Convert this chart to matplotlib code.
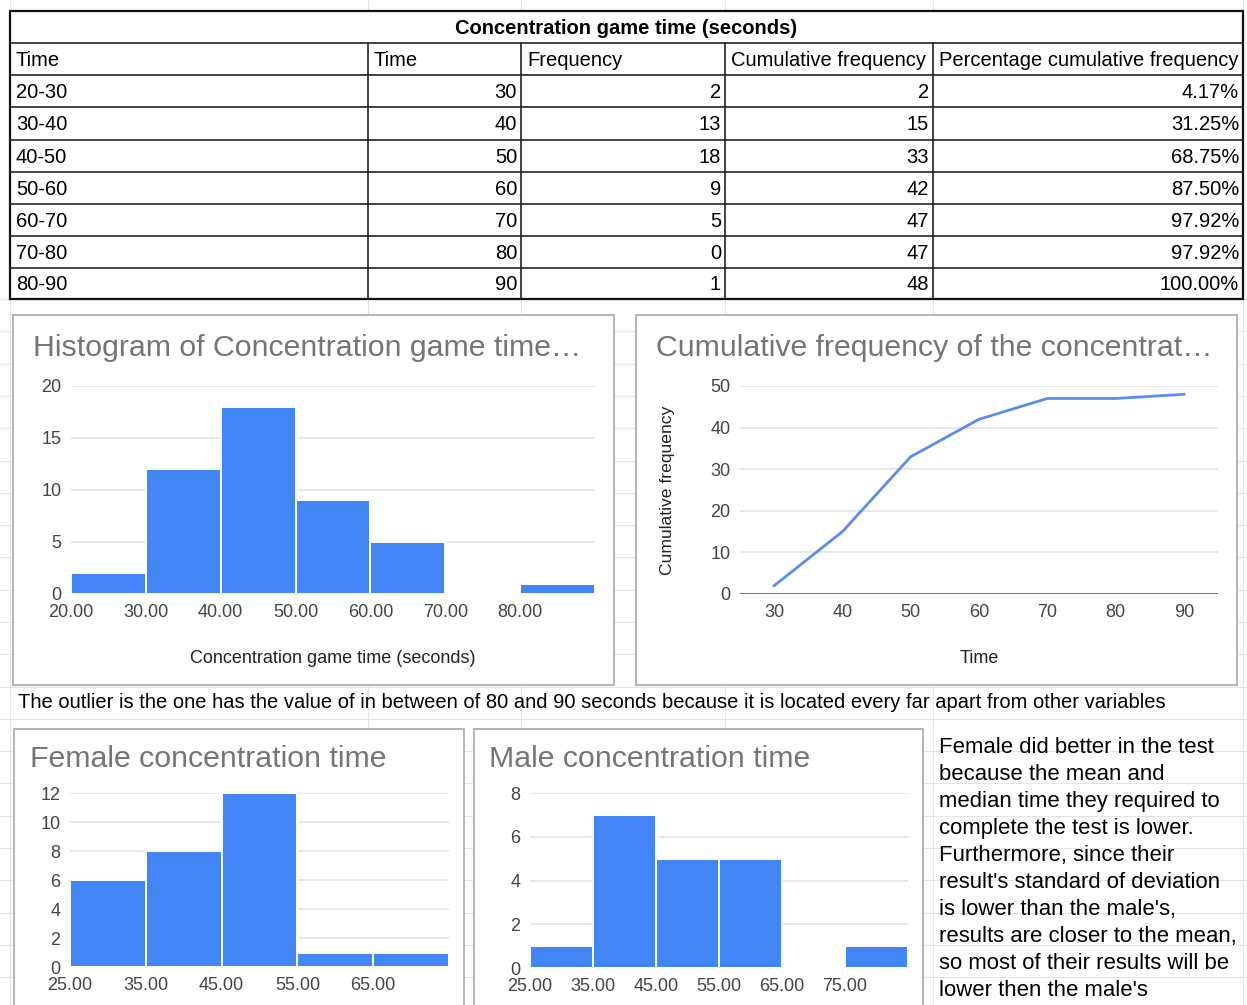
import matplotlib
matplotlib.use('Agg')
import matplotlib.pyplot as plt
from matplotlib.patches import Rectangle

plt.rcParams['font.family'] = ['Liberation Sans', 'DejaVu Sans']

# Данные таблицы
intervals = ['20-30', '30-40', '40-50', '50-60', '60-70', '70-80', '80-90']
upper_time = [30, 40, 50, 60, 70, 80, 90]
frequency = [2, 13, 18, 9, 5, 0, 1]
cum_frequency = [2, 15, 33, 42, 47, 47, 48]
pct_cum_frequency = ['4.17%', '31.25%', '68.75%', '87.50%', '97.92%', '97.92%', '100.00%']
headers = ['Time', 'Time', 'Frequency', 'Cumulative frequency', 'Percentage cumulative frequency']

# Гистограммы (как на графиках)
hist_edges = [20, 30, 40, 50, 60, 70, 80, 90]
hist_counts = [2, 12, 18, 9, 5, 0, 1]
female_edges = [25, 35, 45, 55, 65, 75]
female_counts = [6, 8, 12, 1, 1]
male_edges = [25, 35, 45, 55, 65, 75, 85]
male_counts = [1, 7, 5, 5, 0, 1]

outlier_note = ('The outlier is the one has the value of in between of 80 and 90 seconds '
                'because it is located every far apart from other variables')
comparison_note = ["Female did better in the test",
                   "because the mean and",
                   "median time they required to",
                   "complete the test is lower.",
                   "Furthermore, since their",
                   "result's standard of deviation",
                   "is lower than the male's,",
                   "results are closer to the mean,",
                   "so most of their results will be",
                   "lower then the male's"]

W, H = 1247, 1005
BLUE = '#4285f4'
fig = plt.figure(figsize=(W / 100, H / 100), dpi=100)
bg = fig.add_axes([0, 0, 1, 1])
bg.set_xlim(0, W)
bg.set_ylim(H, 0)
bg.axis('off')


def px_rect(x0, y0, x1, y1):
    return [x0 / W, 1 - y1 / H, (x1 - x0) / W, (y1 - y0) / H]


# фоновая сетка листа
for x in [10, 368, 521, 725, 933, 1243]:
    bg.plot([x, x], [0, H], color='#e4e4e4', lw=0.8, zorder=0)
y = 299
while y < H:
    bg.plot([0, W], [y, y], color='#e4e4e4', lw=0.8, zorder=0)
    y += 32.3

# таблица
row_y = [11, 43, 75, 107, 140, 172, 204, 236, 268, 299]
col_x = [10, 368, 521, 725, 933, 1243]
bg.add_patch(Rectangle((col_x[0], row_y[0]), col_x[-1] - col_x[0], row_y[-1] - row_y[0],
                       facecolor='white', edgecolor='#111111', lw=1.6, zorder=1))
for yy in row_y[1:-1]:
    bg.plot([col_x[0], col_x[-1]], [yy, yy], color='#222222', lw=1.2, zorder=2)
for xx in col_x[1:-1]:
    bg.plot([xx, xx], [row_y[1], row_y[-1]], color='#222222', lw=1.2, zorder=2)

FS = 14.5
bg.text((col_x[0] + col_x[-1]) / 2, (row_y[0] + row_y[1]) / 2 + 1,
        'Concentration game time (seconds)', ha='center', va='center',
        fontsize=FS, fontweight='bold', zorder=3)
for j, h in enumerate(headers):
    bg.text(col_x[j] + 6, (row_y[1] + row_y[2]) / 2 + 1, h, ha='left', va='center',
            fontsize=FS, zorder=3)
for i in range(len(intervals)):
    yc = (row_y[i + 2] + row_y[i + 3]) / 2 + 1
    bg.text(col_x[0] + 6, yc, intervals[i], ha='left', va='center', fontsize=FS, zorder=3)
    vals = [str(upper_time[i]), str(frequency[i]), str(cum_frequency[i]), pct_cum_frequency[i]]
    for j, v in enumerate(vals):
        bg.text(col_x[j + 2] - 4, yc, v, ha='right', va='center', fontsize=FS, zorder=3)

# рамки диаграмм
frames = [(13, 315, 614, 685), (636, 315, 1237, 685), (14, 729, 464, 1020), (474, 729, 923, 1020)]
for x0, y0, x1, y1 in frames:
    bg.add_patch(Rectangle((x0, y0), x1 - x0, y1 - y0, facecolor='white',
                           edgecolor='#a8a8a8', lw=1.2, zorder=1))

titles = [(33, 348, 'Histogram of Concentration game time…'),
          (656, 348, 'Cumulative frequency of the concentrat…'),
          (30, 759, 'Female concentration time'),
          (489, 759, 'Male concentration time')]
for x, y, t in titles:
    bg.text(x, y, t, ha='left', va='center', fontsize=21.8, color='#757575', zorder=3)

bg.text(18, 702, outlier_note, ha='left', va='center', fontsize=14.5, zorder=3)
for k, line in enumerate(comparison_note):
    bg.text(939, 747 + k * 27.1, line, ha='left', va='center', fontsize=15.9, zorder=3)


def style_axes(ax, ylim, yticks):
    ax.set_facecolor('none')
    for s in ax.spines.values():
        s.set_visible(False)
    ax.set_ylim(*ylim)
    ax.set_yticks(yticks)
    ax.yaxis.grid(True, color='#e3e3e3', lw=1.2)
    ax.set_axisbelow(True)
    ax.tick_params(length=0, labelsize=13, colors='#444444')
    ax.tick_params(axis='y', pad=7)
    ax.tick_params(axis='x', pad=7)


def draw_hist(rect, edges, counts, ylim, yticks, xticks):
    ax = fig.add_axes(rect)
    style_axes(ax, ylim, yticks)
    ax.axhline(0, color='#9a9a9a', lw=1.2, zorder=1)
    ax.bar(edges[:-1], counts, width=10, align='edge', color=BLUE,
           edgecolor='white', linewidth=1.4, zorder=2)
    ax.set_xlim(edges[0], edges[-1])
    ax.set_xticks(xticks)
    ax.set_xticklabels([f'{t:.2f}' for t in xticks])
    return ax


ax1 = draw_hist(px_rect(71, 386, 595, 594), hist_edges, hist_counts,
                (0, 20), [0, 5, 10, 15, 20], hist_edges[:-1])
ax1.set_xlabel('Concentration game time (seconds)', fontsize=13, color='#222222', labelpad=21)

ax2 = fig.add_axes(px_rect(740, 386, 1218, 594))
style_axes(ax2, (0, 50), [0, 10, 20, 30, 40, 50])
ax2.axhline(0, color='#777777', lw=1.5, zorder=1)
ax2.plot(upper_time, cum_frequency, color='#5b8def', lw=2, zorder=2)
ax2.set_xlim(25, 95)
ax2.set_xticks(upper_time)
ax2.set_xlabel('Time', fontsize=13, color='#222222', labelpad=21)
ax2.set_ylabel('Cumulative frequency', fontsize=12.6, color='#222222', labelpad=25)

draw_hist(px_rect(70, 793, 449, 967), female_edges, female_counts,
          (0, 12), [0, 2, 4, 6, 8, 10, 12], female_edges[:-1])
draw_hist(px_rect(530, 793, 908, 968), male_edges, male_counts,
          (0, 8), [0, 2, 4, 6, 8], male_edges[:-1])

fig.savefig('out.png', dpi=100)
